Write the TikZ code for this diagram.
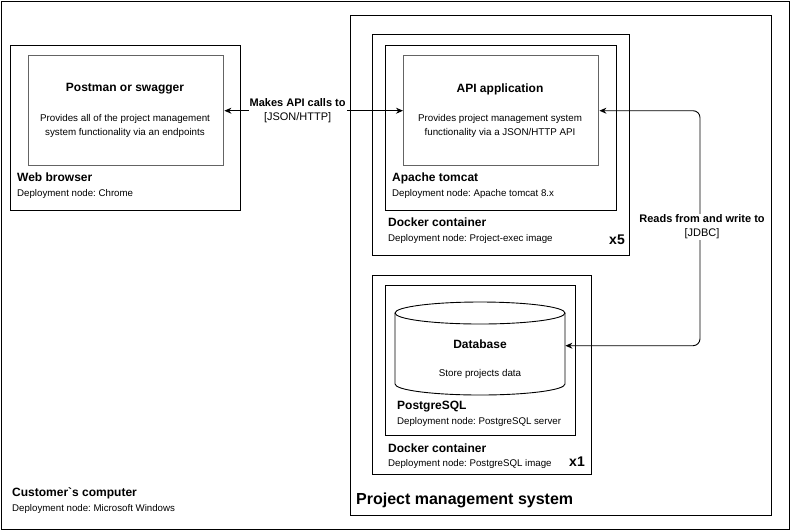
\documentclass[tikz,border=0pt]{standalone}
\usepackage{fontspec}
\setmainfont{Liberation Sans}[Ligatures=TeXOff]
\usetikzlibrary{arrows.meta,calc}
\frenchspacing
\begin{document}
\begin{tikzpicture}[x=1pt,y=-1pt,
  box/.style={draw=black, line width=1pt, fill=none, inner sep=0pt, anchor=north west},
  comp/.style={draw={rgb,255:red,100;green,100;blue,100}, line width=1.4pt, inner sep=0pt, anchor=north west},
  ttl/.style={font=\bfseries\fontsize{12}{14}\selectfont, inner sep=0pt},
  dsc/.style={font=\fontsize{9.8}{13.5}\selectfont, inner sep=0pt, align=center},
  dep/.style={font=\fontsize{9.7}{11}\selectfont, inner sep=0pt, anchor=west},
  lbl/.style={font=\fontsize{11}{14}\selectfont, fill=white, inner sep=1pt, align=center},
  conn/.style={line width=0.9pt, {Stealth[length=7pt,width=6pt]}-{Stealth[length=7pt,width=6pt]}}
]
\frenchspacing
\useasboundingbox (0,0) rectangle (791,531);
% outer customer computer
\node[box, minimum width=788, minimum height=528] (cust) at (1,1) {};
\node[ttl, anchor=west] (custt) at (12,493) {Customer`s computer};
\node[dep] (custd) at (12,509) {Deployment node: Microsoft Windows};

% web browser
\node[box, minimum width=230, minimum height=165] (web) at (10,45) {};
\node[comp, minimum width=195, minimum height=110] (postman) at (28,55) {};
\node[ttl] (postt) at (125,89) {Postman or swagger};
\node[dsc] (postd) at (125,126) {Provides all of the project management\\system functionality via an endpoints};
\node[ttl, anchor=west] (webt) at (17,177) {Web browser};
\node[dep] (webd) at (17,194) {Deployment node: Chrome};

% project management system
\node[box, minimum width=421, minimum height=500] (pms) at (350,15) {};
\node[font=\bfseries\fontsize{16}{18}\selectfont, inner sep=0pt, anchor=west] (pmst) at (356,500) {Project management system};

% docker 1
\node[box, minimum width=257, minimum height=221] (dock1) at (372,34) {};
\node[box, minimum width=231, minimum height=165] (tomcat) at (385,45) {};
\node[comp, minimum width=195, minimum height=110] (api) at (403,55) {};
\node[ttl] (apit) at (500,89) {API application};
\node[dsc] (apid) at (500,126) {Provides project management system\\functionality via a JSON/HTTP API};
\node[ttl, anchor=west] (tomt) at (392,178) {Apache tomcat};
\node[dep] (tomd) at (392,194) {Deployment node: Apache tomcat 8.x};
\node[ttl, anchor=west] (d1t) at (388,222) {Docker container};
\node[dep] (d1d) at (388,239) {Deployment node: Project-exec image};
\node[font=\bfseries\fontsize{14}{16}\selectfont, inner sep=0pt] (x5) at (617,240) {x5};

% docker 2
\node[box, minimum width=219, minimum height=199] (dock2) at (372,275) {};
\node[box, minimum width=190, minimum height=150] (pg) at (385,285) {};
\node[inner sep=0pt, minimum width=170, minimum height=93, anchor=north west] (db) at (395,302) {};
\draw[line width=0.9pt] (395,313) -- (395,384) arc[start angle=180, end angle=0, x radius=85, y radius=11] -- (565,313);
\draw[line width=0.9pt] (480,313) ellipse [x radius=85, y radius=11];
\node[ttl] (dbt) at (480,344) {Database};
\node[dsc] (dbd) at (480,374) {Store projects data};
\node[ttl, anchor=west] (pgt) at (397,407) {PostgreSQL};
\node[dep] (pgd) at (397,422) {Deployment node: PostgreSQL server};
\node[ttl, anchor=west] (d2t) at (388,448) {Docker container};
\node[dep] (d2d) at (388,464) {Deployment node: PostgreSQL image};
\node[font=\bfseries\fontsize{14}{16}\selectfont, inner sep=0pt] (x1) at (577,462) {x1};

% connectors
\draw[conn] (postman.east) -- (api.west)
  node[lbl, pos=0.41] {\textbf{Makes API calls to}\\{[}JSON/HTTP{]}};
\coordinate (jx) at (700,227);
\draw[conn, rounded corners=7pt] (api.east) -| (jx) |- ($(db.east)+(0,-3)$);
\node[lbl] (jl) at (702,227) {\textbf{Reads from and write to}\\{[}JDBC{]}};
\end{tikzpicture}
\end{document}
